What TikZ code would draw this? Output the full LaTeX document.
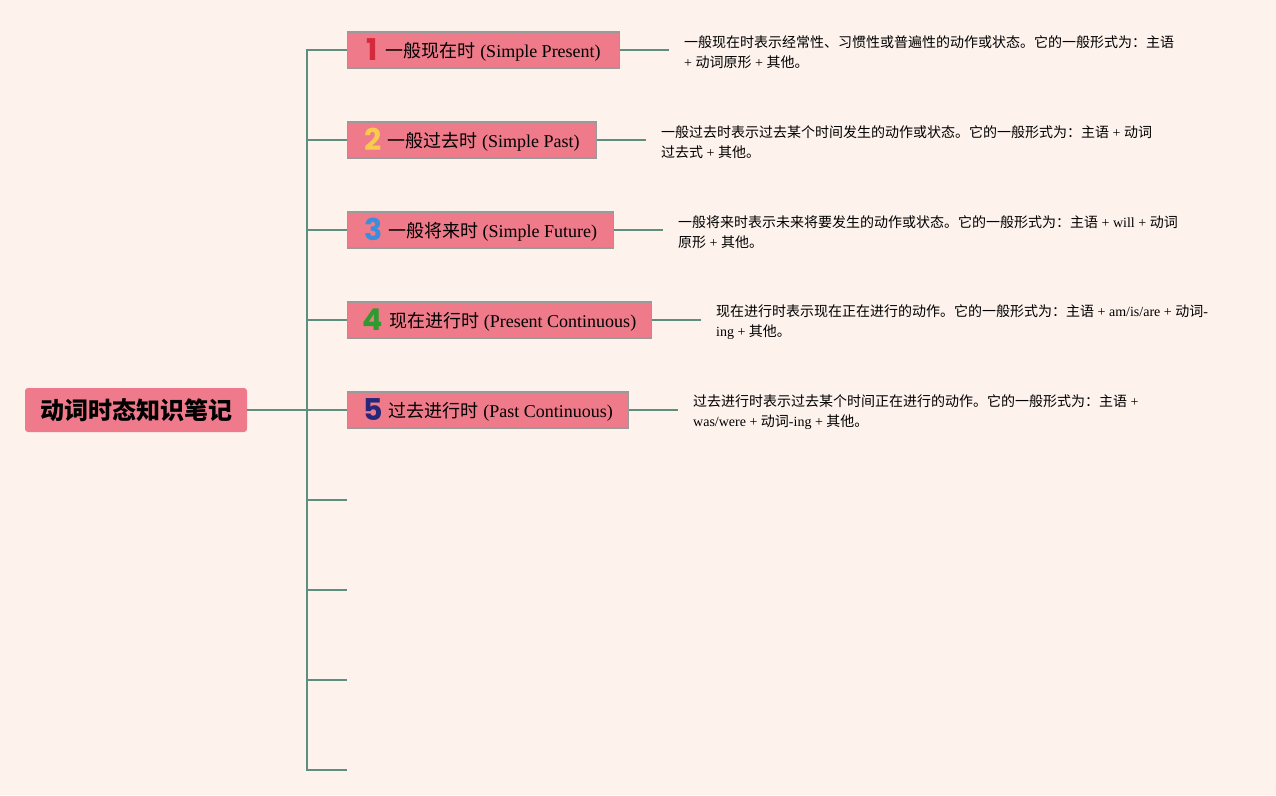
\documentclass[tikz,border=0pt]{standalone}
\usepackage{fontspec}
\setmainfont{Liberation Serif}
\newfontfamily\cjk{Noto Sans CJK SC}
\newfontfamily\numfont{Poppins}
\newcommand\zh[1]{{\cjk #1}}
\newcommand\numd[2]{\raisebox{-3pt}{\numfont\bfseries\fontsize{30}{30}\selectfont\color{#1}#2}}
\definecolor{bg}{HTML}{FDF2EC}
\definecolor{linec}{HTML}{5E8E7E}
\definecolor{boxfill}{HTML}{EE7A8A}
\definecolor{rootfill}{HTML}{EF7A8B}
\definecolor{boxborder}{HTML}{9A9A9A}
\definecolor{nA}{HTML}{D42A3C}
\definecolor{nB}{HTML}{F7CB4D}
\definecolor{nC}{HTML}{3B8EDB}
\definecolor{nD}{HTML}{2E9B2E}
\definecolor{nE}{HTML}{25287A}
\begin{document}
\begin{tikzpicture}[x=1pt,y=-1pt,
  conn/.style={draw=linec, line width=2pt},
  topic/.style={draw=boxborder, line width=1.2pt, fill=boxfill, minimum height=36pt, inner sep=0pt, anchor=west, font=\fontsize{18}{22}\selectfont},
  desc/.style={anchor=west, align=left, inner xsep=15pt, inner ysep=0pt, font=\fontsize{14}{20}\selectfont},
  rootbox/.style={fill=rootfill, rounded corners=3pt, minimum width=222pt, minimum height=44pt, inner sep=0pt, font=\cjk\bfseries\fontsize{24}{28}\selectfont}]
\fill[bg] (0,0) rectangle (1276,795);
\useasboundingbox (0,0) rectangle (1276,795);

\node[rootbox] (root) at (136,410) {动词时态知识笔记};

\coordinate (sp) at (307,410);
\coordinate (stop) at (307,49);
\coordinate (sbot) at (307,771);

\node[topic, minimum width=272pt] (t1) at (347,50) {\numd{nA}{1}\hspace{8pt}\zh{一般现在时} (Simple Present)};
\node[topic, minimum width=249pt] (t2) at (347,140) {\numd{nB}{2}\hspace{6pt}\zh{一般过去时} (Simple Past)};
\node[topic, minimum width=266pt] (t3) at (347,230) {\numd{nC}{3}\hspace{6pt}\zh{一般将来时} (Simple Future)};
\node[topic, minimum width=304pt] (t4) at (347,320) {\numd{nD}{4}\hspace{6pt}\zh{现在进行时} (Present Continuous)};
\node[topic, minimum width=281pt] (t5) at (347,410) {\numd{nE}{5}\hspace{6pt}\zh{过去进行时} (Past Continuous)};

\coordinate (e6) at (347,500);
\coordinate (e7) at (347,590);
\coordinate (e8) at (347,680);
\coordinate (e9) at (347,770);

\node[desc] (d1) at (669,52) {\zh{一般现在时表示经常性、习惯性或普遍性的动作或状态。它的一般形式为：主语}\\+ \zh{动词原形} + \zh{其他。}};
\node[desc] (d2) at (646,142) {\zh{一般过去时表示过去某个时间发生的动作或状态。它的一般形式为：主语} + \zh{动词}\\\zh{过去式} + \zh{其他。}};
\node[desc] (d3) at (663,232) {\zh{一般将来时表示未来将要发生的动作或状态。它的一般形式为：主语} + will + \zh{动词}\\\zh{原形} + \zh{其他。}};
\node[desc] (d4) at (701,322) {\zh{现在进行时表示现在正在进行的动作。它的一般形式为：主语} + am/is/are + \zh{动词}-\\ing + \zh{其他。}};
\node[desc] (d5) at (678,412) {\zh{过去进行时表示过去某个时间正在进行的动作。它的一般形式为：主语} +\\was/were + \zh{动词}-ing + \zh{其他。}};

\draw[conn] (root.east) -- (sp);
\draw[conn] (stop) -- (sbot);
\foreach \t in {t1,t2,t3,t4,t5}{
  \draw[conn] (stop |- \t.west) -- (\t.west);
}
\foreach \e in {e6,e7,e8,e9}{
  \draw[conn] (stop |- \e) -- (\e);
}
\draw[conn] (t1.east) -- (t1.east -| d1.west);
\draw[conn] (t2.east) -- (t2.east -| d2.west);
\draw[conn] (t3.east) -- (t3.east -| d3.west);
\draw[conn] (t4.east) -- (t4.east -| d4.west);
\draw[conn] (t5.east) -- (t5.east -| d5.west);
\end{tikzpicture}
\end{document}
